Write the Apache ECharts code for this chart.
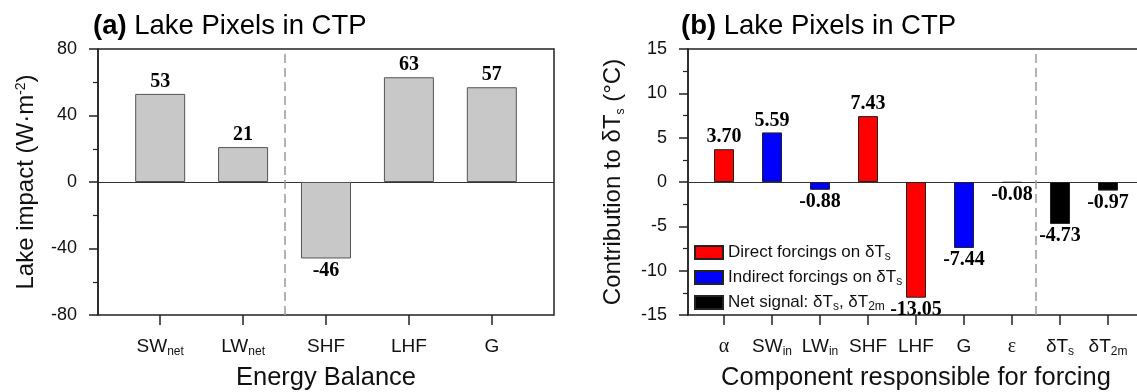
<!DOCTYPE html>
<html lang="en">
<head>
<meta charset="UTF-8">
<title>Lake Pixels in CTP</title>
<script src="https://cdn.jsdelivr.net/npm/echarts@6/dist/echarts.min.js"></script>
<style>html,body{margin:0;padding:0;background:#fff}</style>
</head>
<body>
<div id="main" style="width:1137px;height:392px"></div>
<script>
// panel (a): energy balance
var aCats = ['SW{sub|net}', 'LW{sub|net}', 'SHF', 'LHF', 'G'];
var aValues = [53, 21, -46, 63, 57];
var aSplitAfter = 1;          // dashed line between LWnet and SHF
var aAxis = [-80, 80, 40];    // min, max, interval

// panel (b): contribution to dTs
var bCats = ['{gr|α}', 'SW{sub|in}', 'LW{sub|in}', 'SHF', 'LHF', 'G', '{gr|ε}', 'δT{sub|s}', 'δT{sub|2m}'];
var bValues = [3.70, 5.59, -0.88, 7.43, -13.05, -7.44, -0.08, -4.73, -0.97];
var bGroup = [0, 1, 1, 0, 0, 1, 1, 2, 2];
var bGroupNames = ['Direct forcings on δT{sub|s}', 'Indirect forcings on δT{sub|s}', 'Net signal: δT{sub|s}, δT{sub|2m}'];
var bGroupColors = ['#ff0000', '#0000ff', '#000000'];
var bSplitAfter = 6;          // dashed line between ε and δTs
var bAxis = [-15, 15, 5];

var sans = 'Liberation Sans';
var serif = 'Liberation Serif';
var frameTop = 49, frameH = 266, frameW = 456;
var aLeft = 98, bLeft = 688;

// bars sit 3/4 of a category step in from each side of the frame
function barGrid(left, n) {
    var step = frameW / (n + 0.5);
    return {left: left + step / 4, top: frameTop, width: step * n, height: frameH,
        outerBoundsMode: 'none', containLabel: false};
}
function frameGrid(left) {
    return {left: left, top: frameTop, width: frameW, height: frameH,
        outerBoundsMode: 'none', containLabel: false,
        show: true, borderColor: '#222', borderWidth: 1.5};
}

var subRich = {
    sub: {fontSize: 12, verticalAlign: 'bottom', padding: [0, 0, -2, 0]},
    sup: {fontSize: 14, verticalAlign: 'top'},
    gr: {fontFamily: serif, fontSize: 20, padding: [0, 0, 4, 0]}
};

function zeroAxis(gi) {
    return {gridIndex: gi, type: 'value', min: 0, max: 1,
        axisLine: {show: true, onZero: true, lineStyle: {color: '#333', width: 1}},
        axisTick: {show: false}, axisLabel: {show: false}, splitLine: {show: false}};
}
function catAxis(gi, cats, name) {
    return {gridIndex: gi, type: 'category', data: cats,
        axisLine: {show: false, onZero: false},
        axisTick: {show: true, alignWithLabel: true, interval: 0, length: 10, lineStyle: {color: '#222', width: 1.5}},
        axisLabel: {interval: 0, margin: 22, fontFamily: sans, fontSize: 19, color: '#111', rich: subRich},
        name: name, nameLocation: 'middle', nameGap: 50,
        nameTextStyle: {fontFamily: sans, fontSize: 25.5, color: '#111'}};
}
function hiddenX(gi, n) {
    return {gridIndex: gi, type: 'value', min: -0.5, max: n - 0.5, show: false, position: 'top'};
}
function valueAxis(gi, ax, name, gap) {
    return {gridIndex: gi, type: 'value', min: ax[0], max: ax[1], interval: ax[2],
        axisLine: {show: true, lineStyle: {color: '#222', width: 1.5}},
        axisTick: {show: true, length: 9, lineStyle: {color: '#222', width: 1.5}},
        minorTick: {show: true, splitNumber: 2, length: 5, lineStyle: {color: '#222', width: 1.2}},
        axisLabel: {margin: 21, fontFamily: sans, fontSize: 18, color: '#111'},
        splitLine: {show: false},
        name: name, nameLocation: 'middle', nameGap: gap,
        nameTextStyle: {fontFamily: sans, fontSize: 24, color: '#111', rich: subRich}};
}
function hiddenY(gi, ax) {
    return {gridIndex: gi, type: 'value', min: ax[0], max: ax[1], show: false};
}
function divider(xi, yi, at) {
    return {type: 'line', xAxisIndex: xi, yAxisIndex: yi, data: [], silent: true,
        markLine: {silent: true, symbol: ['none', 'none'], label: {show: false},
            lineStyle: {color: '#9a9a9a', type: [9, 5], width: 1.5},
            data: [{xAxis: at + 0.5}]}};
}
function labelled(v) {
    if (v === null) return null;
    return {value: v, label: {position: v < 0 ? 'bottom' : 'top'}};
}
var valueLabel = {show: true, distance: 2, fontFamily: serif, fontWeight: 'bold', fontSize: 20, color: '#000'};

var bSeries = bGroupNames.map(function (name, g) {
    return {
        name: name, type: 'bar', xAxisIndex: 4, yAxisIndex: 3,
        barWidth: 20, barGap: '-100%',
        itemStyle: {color: bGroupColors[g], borderColor: '#222', borderWidth: 1},
        label: Object.assign({}, valueLabel, {formatter: function (p) { return p.value.toFixed(2); }}),
        data: bValues.map(function (v, i) { return labelled(bGroup[i] === g ? v : null); })
    };
});

function panelTitle(left, text) {
    return {left: left, top: 12, padding: 0, text: text,
        textStyle: {fontFamily: sans, fontSize: 27.5, fontWeight: 'normal', color: '#000',
            rich: {b: {fontFamily: sans, fontSize: 27.5, fontWeight: 'bold'}}}};
}

var chart = echarts.init(document.getElementById('main'));
chart.setOption({
    animation: false,
    title: [
        panelTitle(93, '{b|(a)} Lake Pixels in CTP'),
        panelTitle(681, '{b|(b)} Lake Pixels in CTP')
    ],
    legend: {
        data: bGroupNames, orient: 'vertical', left: 694, top: 244, padding: 0,
        itemWidth: 28, itemHeight: 13, itemGap: 6, icon: 'rect', selectedMode: false,
        textStyle: {fontFamily: sans, fontSize: 17, color: '#111', rich: subRich}
    },
    grid: [frameGrid(aLeft), barGrid(aLeft, aCats.length), frameGrid(bLeft), barGrid(bLeft, bCats.length)],
    xAxis: [
        zeroAxis(0),
        catAxis(1, aCats, 'Energy Balance'),
        hiddenX(1, aCats.length),
        zeroAxis(2),
        catAxis(3, bCats, 'Component responsible for forcing'),
        hiddenX(3, bCats.length)
    ],
    yAxis: [
        valueAxis(0, aAxis, 'Lake impact (W·m{sup|-2})', 60),
        hiddenY(1, aAxis),
        valueAxis(2, bAxis, 'Contribution to δT{sub|s} (°C)', 63),
        hiddenY(3, bAxis)
    ],
    series: [
        {type: 'bar', xAxisIndex: 1, yAxisIndex: 1, barWidth: 50,
            itemStyle: {color: '#c8c8c8', borderColor: '#555', borderWidth: 1},
            label: valueLabel,
            data: aValues.map(labelled)},
        divider(2, 1, aSplitAfter)
    ].concat(bSeries, [divider(5, 3, bSplitAfter)])
});
</script>
</body>
</html>
